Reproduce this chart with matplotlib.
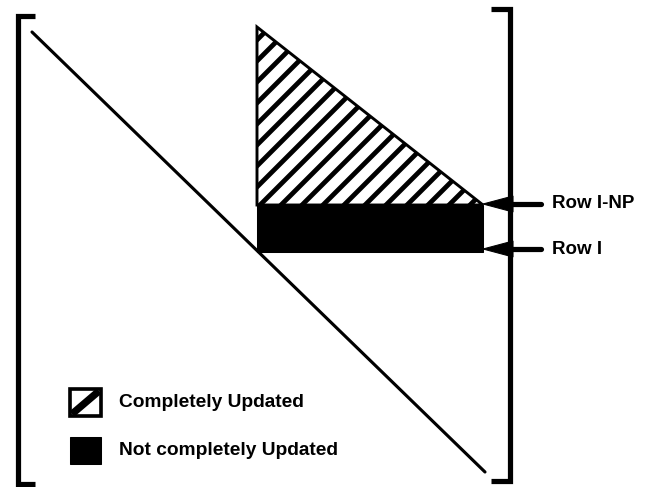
import numpy as np
import matplotlib
matplotlib.use("Agg")
import matplotlib.pyplot as plt
from matplotlib.patches import Polygon, Rectangle

# rysunek w pikselach obrazka 648x487 (os y w dol)
W, H = 648, 487

# nawiasy macierzy: x, gora, dol, koniec szeryfu
left_bracket = [18, 16, 484, 35]
right_bracket = [510, 9, 481, 491]

# przekatna macierzy
diag_x = [32, 485]
diag_y = [32, 472]

# trojkat "completely updated"
tri_x = [257, 257, 483]
tri_y = [27, 205, 205]

# pas "not completely updated" (wiersze I-NP .. I)
band_x = [257, 483]
band_y = [205, 252]

# strzalki wierszy
row_labels = ["Row I-NP", "Row I"]
row_y = [204, 249]
arrow_tip = 483
arrow_base = 513
arrow_end = 541
label_x = 552

# legenda
legend_labels = ["Completely Updated", "Not completely Updated"]
legend_box_x = [70, 101]
legend_box_y = [[389, 416], [437, 464]]
legend_text_x = 119

# kreskowanie - odstep w poziomie (px) i przesuniecie
hatch_step = 21
hatch_phase = 465

plt.rcParams['font.family'] = ['Liberation Sans', 'DejaVu Sans']

fig = plt.figure(figsize=(W / 75, H / 75), dpi=75)
ax = fig.add_axes([0, 0, 1, 1])
ax.set_xlim(0, W)
ax.set_ylim(H, 0)
ax.axis('off')

# nawiasy
for bx, top, bot, serif in [left_bracket, right_bracket]:
    ax.plot([serif, bx, bx, serif], [top, top, bot, bot], color='black',
            lw=5, solid_joinstyle='miter', solid_capstyle='butt')

# przekatna
ax.plot(diag_x, diag_y, color='black', lw=3, solid_capstyle='round')

# trojkat kreskowany (linie x + y = c przyciete do trojkata)
tri = Polygon(np.column_stack([tri_x, tri_y]), closed=True, facecolor='white',
              edgecolor='none')
ax.add_patch(tri)
c_lo = min(np.add(tri_x, tri_y)) - hatch_step
c_hi = max(np.add(tri_x, tri_y)) + hatch_step
n0 = int((hatch_phase - c_lo) // hatch_step)
for c in np.arange(hatch_phase - n0 * hatch_step, c_hi, hatch_step):
    xs = np.array([min(tri_x) - 5, max(tri_x) + 5])
    ln, = ax.plot(xs, c - xs, color='black', lw=4.6, solid_capstyle='butt')
    ln.set_clip_path(tri)
ax.add_patch(Polygon(np.column_stack([tri_x, tri_y]), closed=True,
                     facecolor='none', edgecolor='black', lw=2.8,
                     joinstyle='miter'))

# czarny pas
ax.add_patch(Rectangle((band_x[0], band_y[0]), band_x[1] - band_x[0],
                       band_y[1] - band_y[0], facecolor='black',
                       edgecolor='black', lw=1))

# strzalki + podpisy
for y, lab in zip(row_y, row_labels):
    head = Polygon([[arrow_tip, y], [arrow_base, y - 8], [arrow_base, y + 8]],
                   closed=True, facecolor='black', edgecolor='black', lw=1)
    ax.add_patch(head)
    ax.plot([arrow_base - 2, arrow_end], [y, y], color='black', lw=5,
            solid_capstyle='round')
    ax.text(label_x, y, lab, fontsize=18, fontweight='bold',
            ha='left', va='center')

# legenda
x0, x1 = legend_box_x
(h0, h1), (b0, b1) = legend_box_y
ax.add_patch(Rectangle((x0, h0), x1 - x0, h1 - h0, facecolor='white',
                       edgecolor='black', lw=3.5))
ax.plot([x0 + 2, x1 - 2], [h1 - 2, h0 + 2], color='black', lw=7,
        solid_capstyle='butt')
ax.add_patch(Rectangle((x0, b0), x1 - x0, b1 - b0, facecolor='black',
                       edgecolor='black', lw=1))
for (t0, t1), lab in zip(legend_box_y, legend_labels):
    ax.text(legend_text_x, (t0 + t1) / 2, lab, fontsize=18.4,
            fontweight='bold', ha='left', va='center')

fig.savefig("out.png", dpi=75)
